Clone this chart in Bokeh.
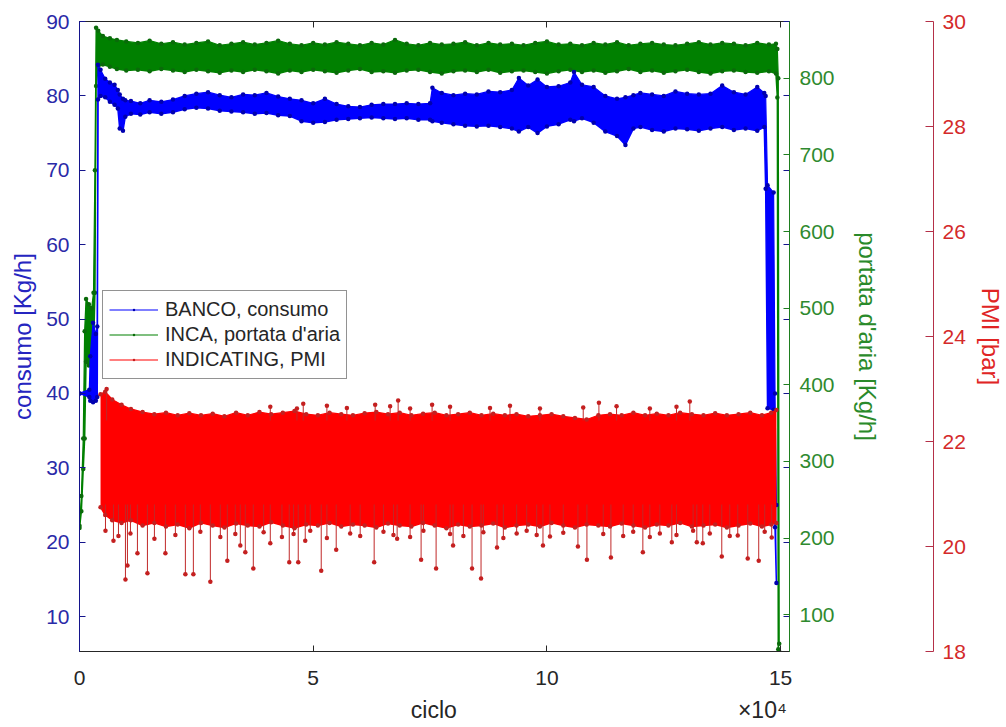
from bokeh.plotting import figure
from bokeh.models import (Range1d, LinearAxis, FixedTicker, Legend, LegendItem,
                          CustomJSTickFormatter)
from bokeh.embed import file_html
from bokeh.resources import INLINE

FONT = "Liberation Sans"

# ---------------- data ----------------
# BANCO, consumo [Kg/h] (left axis): envelope of the dense trace
banco_x = [0, 2100, 2300, 2900, 3500, 3800, 3950, 4500, 5500, 6500,
           7500, 8200, 8600, 9300, 9800, 11000, 13000, 15000, 17500, 20000,
           22500, 25000, 27500, 30000, 32500, 35000, 37500, 40000, 42500, 45000,
           47500, 50000, 52500, 55000, 57500, 60000, 62500, 65000, 67500, 70000,
           72500, 75000, 75500, 77500, 80000, 82500, 85000, 87500, 90000, 92500,
           94000, 96000, 98000, 100000, 102500, 105000, 105800, 107500, 110000, 112500,
           115000, 116800, 118500, 120000, 122500, 125000, 127500, 130000, 132500, 135000,
           137500, 140000, 142500, 145000, 146500, 146800, 147200, 148500, 148800, 149100]
banco_lo = [40, 39.5, 39, 38.8, 39, 39.5, 79.5, 80, 79.8, 79.2,
            78.8, 78.3, 75.6, 75.3, 77.2, 77.6, 77.5, 77.8, 77.6, 77.8,
            78.2, 78.4, 78.3, 78.0, 77.9, 77.8, 77.6, 77.7, 77.4, 77.3,
            76.6, 76.4, 76.5, 76.8, 76.9, 77.0, 77.1, 77.0, 76.9, 77.0,
            76.8, 76.8, 76.6, 76.4, 76.2, 76.0, 75.9, 76.0, 75.8, 75.6,
            75.2, 75.8, 75.0, 75.9, 76.2, 76.8, 76.6, 77.0, 76.4, 75.2,
            74.6, 73.4, 75.6, 75.8, 75.4, 75.2, 75.6, 75.5, 75.3, 75.6,
            75.8, 75.4, 75.6, 75.3, 75.8, 67.5, 38.0, 37.8, 22.0, 14.5]
banco_hi = [40, 40.5, 45, 49.5, 48, 49, 84.2, 83.5, 82.3, 81.8,
            81.5, 80.8, 80.2, 79.6, 79.4, 79.3, 79.0, 79.4, 79.2, 79.5,
            80.0, 80.3, 80.5, 80.1, 79.8, 80.2, 80.1, 80.4, 79.9, 79.6,
            79.4, 79.0, 79.6, 78.9, 78.6, 78.5, 78.8, 78.9, 78.9, 79.0,
            78.9, 79.0, 81.1, 80.4, 80.1, 80.3, 80.2, 80.6, 80.5, 80.8,
            82.4, 81.4, 82.2, 81.2, 81.3, 81.8, 83.2, 81.5, 81.2, 80.0,
            79.6, 79.8, 80.1, 80.4, 80.2, 80.0, 80.6, 80.3, 80.2, 80.3,
            81.4, 80.5, 80.2, 81.2, 80.4, 80.0, 68.0, 67.0, 40.0, 25.0]

# INCA, portata d'aria [Kg/h] (first right axis)
inca_x = [0, 400, 800, 1100, 1400, 2000, 2600, 3000, 3300, 3550,
          4000, 5000, 6500, 8000,
          10000, 12500, 15000, 17500, 20000, 22500, 25000, 27500, 30000, 32500,
          35000, 37500, 40000, 42500, 45000, 47500, 50000, 52500, 55000, 57500,
          60000, 62500, 65000, 67500, 70000, 72500, 75000, 77500, 80000, 82500,
          85000, 87500, 90000, 92500, 95000, 97500, 100000, 102500, 105000, 107500,
          110000, 112500, 115000, 117500, 120000, 122500, 125000, 127500, 130000, 132500,
          135000, 137500, 140000, 142500, 145000, 147500,
          149000, 149300, 149500, 149700]
inca_lo = [213, 235, 290, 330, 430, 425, 430, 445, 520, 790,
           815, 818, 815, 812,
           810, 811, 809, 812, 810, 808, 811, 809, 807, 810,
           808, 811, 809, 806, 810, 808, 811, 809, 807, 810,
           812, 808, 809, 807, 810, 811, 808, 806, 809, 810,
           808, 811, 807, 809, 810, 808, 806, 809, 811, 808,
           810, 807, 809, 812, 808, 810, 807, 809, 811, 808,
           806, 809, 810, 808, 807, 809,
           806, 775, 55, 52]
inca_hi = [216, 255, 330, 470, 512, 505, 500, 520, 680, 866,
           862, 855, 852, 850,
           848, 846, 849, 845, 847, 844, 846, 848, 843, 845,
           847, 844, 846, 849, 845, 843, 846, 844, 847, 845,
           843, 846, 844, 850, 845, 843, 846, 844, 845, 847,
           843, 846, 844, 845, 843, 846, 848, 844, 845, 843,
           846, 844, 847, 843, 845, 846, 844, 843, 845, 847,
           844, 846, 845, 843, 846, 844,
           845, 838, 800, 62]

# INDICATING, PMI [bar] (second right axis)
pmi_x = [4500, 5500, 7000, 9000, 11000, 13500, 16000, 18500, 21000, 23500,
         26000, 28500, 31000, 33500, 36000, 38500, 41000, 43500, 46000, 48500,
         51000, 53500, 56000, 58500, 61000, 63500, 66000, 68500, 71000, 73500,
         76000, 78500, 81000, 83500, 86000, 88500, 91000, 93500, 96000, 98500,
         101000, 103500, 106000, 108500, 111000, 113500, 116000, 118500, 121000, 123500,
         126000, 128500, 131000, 133500, 136000, 138500, 141000, 143500, 146000, 148000,
         149100]
pmi_lo = [20.75, 20.6, 20.5, 20.45, 20.5, 20.4, 20.45, 20.38, 20.42, 20.35,
          20.45, 20.4, 20.36, 20.44, 20.4, 20.38, 20.46, 20.4, 20.35, 20.42,
          20.4, 20.45, 20.38, 20.42, 20.4, 20.36, 20.44, 20.4, 20.38, 20.45,
          20.4, 20.35, 20.42, 20.38, 20.4, 20.44, 20.36, 20.4, 20.42, 20.38,
          20.45, 20.4, 20.36, 20.42, 20.4, 20.38, 20.44, 20.4, 20.36, 20.42,
          20.4, 20.45, 20.38, 20.4, 20.42, 20.36, 20.4, 20.44, 20.38, 20.42,
          20.45]
pmi_hi = [22.9, 22.95, 22.8, 22.7, 22.62, 22.56, 22.52, 22.55, 22.5, 22.54,
          22.5, 22.53, 22.48, 22.55, 22.5, 22.56, 22.52, 22.55, 22.58, 22.52,
          22.5, 22.55, 22.52, 22.5, 22.54, 22.56, 22.52, 22.55, 22.5, 22.53,
          22.55, 22.5, 22.52, 22.55, 22.5, 22.53, 22.5, 22.52, 22.48, 22.5,
          22.52, 22.48, 22.45, 22.42, 22.5, 22.52, 22.5, 22.55, 22.5, 22.53,
          22.5, 22.55, 22.52, 22.5, 22.54, 22.5, 22.52, 22.55, 22.5, 22.55,
          22.6]
# isolated PMI outliers: long downward spikes
pmi_down_x = [7266, 9830, 10258, 12395, 14532, 18378, 22652, 24362, 27995, 31628,
              34406, 35474, 37184, 40817, 44877, 46800, 48296, 51715, 54921, 63042,
              67957, 73085, 76291, 79924, 83984, 85907, 89327, 99157, 106636, 108560,
              113688, 120527, 126724, 132067, 133349, 137409, 140828, 142965, 145316, 148094]
pmi_down_v = [20.11, 19.37, 19.64, 19.87, 19.49, 19.87, 19.47, 19.47, 19.33, 19.73,
              20.02, 19.89, 19.58, 20.06, 19.70, 19.70, 20.11, 19.54, 19.94, 19.70,
              20.15, 19.75, 19.58, 20.02, 19.58, 19.39, 19.98, 20.02, 20.00, 19.75,
              19.79, 19.89, 20.08, 20.08, 20.06, 19.81, 20.21, 19.77, 19.73, 20.17]
# short downward spikes along the lower edge
pmi_short_x = [5556, 8334, 10898, 16027, 20515, 25857, 30131, 33337, 39390, 43310,
               45800, 49370, 52930, 57910, 60050, 65030, 67170, 70730, 73580, 79280,
               82130, 86400, 90680, 93530, 95670, 97810, 100650, 103500, 112050, 116320,
               118460, 122020, 124160, 127720, 131280, 134845, 139119, 146598]
pmi_short_v = [20.3, 20.2, 20.25, 20.15, 20.22, 20.28, 20.18, 20.24, 20.27, 20.18,
               20.24, 20.3, 20.16, 20.25, 20.2, 20.28, 20.22, 20.18, 20.3, 20.24,
               20.2, 20.27, 20.16, 20.25, 20.3, 20.22, 20.19, 20.26, 20.24, 20.2,
               20.28, 20.18, 20.25, 20.22, 20.3, 20.25, 20.2, 20.28]
# upward outliers along the upper edge
pmi_up_x = [5800, 40817, 46520, 47869, 52930, 57200, 63255, 66460, 68170, 70730,
            75436, 79280, 87830, 92100, 98510, 107770, 111124, 114900, 122020, 127720,
            130571]
pmi_up_v = [23.0, 22.66, 22.63, 22.72, 22.68, 22.64, 22.7, 22.67, 22.78, 22.63,
            22.7, 22.66, 22.64, 22.68, 22.63, 22.65, 22.74, 22.67, 22.63, 22.66,
            22.76]

x_ticks = [0, 50000, 100000, 150000]
left_ticks = [10, 20, 30, 40, 50, 60, 70, 80, 90]
air_ticks = [100, 200, 300, 400, 500, 600, 700, 800]
pmi_ticks = [18, 20, 22, 24, 26, 28, 30]

labels = ["BANCO, consumo", "INCA, portata d'aria", "INDICATING, PMI"]
x_title = "ciclo"
x_multiplier = "×10⁴"

# ---------------- colours ----------------
BLUE = "#0000ff"
GREEN = "#008000"
RED = "#ff0000"
L_AX = "#14148c"
L_TXT = "#2a2aa8"
G_AX = "#1f7f1f"
G_TXT = "#2f8a2f"
R_AX = "#b43048"
R_TXT = "#d42a2a"
K_TXT = "#262626"

# layout anchors (data x of the under-axis texts)
X_TITLE_AT = 75800
X_MULT_AT = 146100


def trim(*cols):
    n = min(len(c) for c in cols)
    return [list(c[:n]) for c in cols]


bx, blo, bhi = trim(banco_x, banco_lo, banco_hi)
gx, glo, ghi = trim(inca_x, inca_lo, inca_hi)
rx, rlo, rhi = trim(pmi_x, pmi_lo, pmi_hi)
dx, dv = trim(pmi_down_x, pmi_down_v)
sx, sv = trim(pmi_short_x, pmi_short_v)
ux, uv = trim(pmi_up_x, pmi_up_v)

p = figure(width=1006, height=727, output_backend="svg", toolbar_location=None,
           x_range=Range1d(0, 151900), y_range=Range1d(5.3, 90),
           min_border_left=79, min_border_top=21, min_border_right=0,
           min_border_bottom=76)
p.extra_y_ranges = {"air": Range1d(52, 874), "pmi": Range1d(18, 30)}
p.xgrid.visible = False
p.ygrid.visible = False
p.outline_line_color = "#262626"
p.outline_line_width = 1
p.background_fill_color = "white"
p.border_fill_color = "white"

EMPTY = CustomJSTickFormatter(code="return '';")


def style_axis(ax, color_line, color_txt, tick_in, standoff, label=None,
               label_standoff=0, lab_color=None, size="21px"):
    ax.axis_line_color = color_line
    ax.major_tick_line_color = color_line
    ax.minor_tick_line_color = None
    ax.major_tick_in = tick_in
    ax.major_tick_out = 0
    ax.major_label_standoff = standoff
    ax.major_label_text_font = FONT
    ax.major_label_text_font_size = size
    ax.major_label_text_color = color_txt
    if label is not None:
        ax.axis_label = label
        ax.axis_label_text_font = FONT
        ax.axis_label_text_font_size = "24px"
        ax.axis_label_text_font_style = "normal"
        ax.axis_label_text_color = lab_color or color_txt
        ax.axis_label_standoff = label_standoff


# bottom x axis (tick labels only)
xa = p.xaxis[0]
xa.ticker = FixedTicker(ticks=x_ticks)
xa.formatter = CustomJSTickFormatter(code="return (tick/10000).toFixed(0);")
style_axis(xa, "#262626", K_TXT, 6, 19)

# second row under the axis: "ciclo" and the x10^4 multiplier
xb = LinearAxis(ticker=FixedTicker(ticks=[X_TITLE_AT, X_MULT_AT]))
xb.formatter = CustomJSTickFormatter(
    args=dict(t=x_title, m=x_multiplier, cut=(X_TITLE_AT + X_MULT_AT) / 2),
    code="return tick < cut ? t : m;")
style_axis(xb, None, K_TXT, 0, 9, size="23px")
xb.major_tick_line_color = None
p.add_layout(xb, "below")

# left axis
ya = p.yaxis[0]
ya.ticker = FixedTicker(ticks=left_ticks)
style_axis(ya, L_AX, L_TXT, 6, 10, "consumo [Kg/h]", 7, "#2525c0")

# mirrored ticks (top, right of the box), no labels
top = LinearAxis(ticker=FixedTicker(ticks=x_ticks), formatter=EMPTY)
style_axis(top, "#262626", None, 6, 0)
top.axis_line_color = None
p.add_layout(top, "above")

mir = LinearAxis(ticker=FixedTicker(ticks=left_ticks), formatter=EMPTY)
style_axis(mir, L_AX, None, 6, 0)
mir.axis_line_color = None
p.add_layout(mir, "right")

# green axis
ga = LinearAxis(y_range_name="air", ticker=FixedTicker(ticks=air_ticks))
style_axis(ga, G_AX, G_TXT, 6, 10, "portata d'aria [Kg/h]", 16, "#2a8a2a")
p.add_layout(ga, "right")

# spacer between green and red axes
sp = LinearAxis(y_range_name="air", ticker=FixedTicker(ticks=[]), formatter=EMPTY)
sp.axis_line_color = None
sp.major_tick_line_color = None
sp.minor_tick_line_color = None
sp.major_label_text_color = None
sp.major_label_standoff = 0
sp.axis_label = " "
sp.axis_label_text_font_size = "10px"
sp.axis_label_standoff = 36
p.add_layout(sp, "right")

# red axis
ra = LinearAxis(y_range_name="pmi", ticker=FixedTicker(ticks=pmi_ticks))
style_axis(ra, R_AX, R_TXT, 8, 9, "PMI [bar]", 8, "#e02424")
p.add_layout(ra, "right")

# ---------------- series ----------------
# INCA (green)
p.varea(x=gx, y1=glo, y2=ghi, color=GREEN, y_range_name="air")
p.line(gx, glo, color=GREEN, line_width=1.5, y_range_name="air")
g_line = p.line(gx, ghi, color=GREEN, line_width=1.2, y_range_name="air")
g_dot = p.scatter(gx + gx, glo + ghi, marker="dot", size=18, color="#0a6a0a",
                  y_range_name="air")

# BANCO (blue)
p.varea(x=bx, y1=blo, y2=bhi, color=BLUE)
p.line(bx, blo, color=BLUE, line_width=1.5)
b_line = p.line(bx, bhi, color=BLUE, line_width=1.2)
b_dot = p.scatter(bx + bx, blo + bhi, marker="dot", size=18, color="#0000b0")

# INDICATING (red)
p.varea(x=rx, y1=rlo, y2=rhi, color=RED, y_range_name="pmi")
p.line(rx, rlo, color=RED, line_width=1.5, y_range_name="pmi")
r_line = p.line(rx, rhi, color=RED, line_width=1.2, y_range_name="pmi")
p.segment(x0=dx + sx, y0=20.8, x1=dx + sx, y1=dv + sv, color="#c02828",
          line_width=1, y_range_name="pmi")
p.segment(x0=ux, y0=22.4, x1=ux, y1=uv, color="#c02828", line_width=1,
          y_range_name="pmi")
r_dot = p.scatter(dx + sx + ux + rx + rx, dv + sv + uv + rlo + rhi, marker="dot",
                  size=18, color="#c42020", y_range_name="pmi")

legend = Legend(items=[
    LegendItem(label=labels[0], renderers=[b_line, b_dot]),
    LegendItem(label=labels[1], renderers=[g_line, g_dot]),
    LegendItem(label=labels[2], renderers=[r_line, r_dot]),
], location=(23, 272))
legend.border_line_color = "#262626"
legend.border_line_width = 1
legend.background_fill_color = "white"
legend.background_fill_alpha = 1
legend.label_text_font = FONT
legend.label_text_font_size = "20px"
legend.label_text_color = K_TXT
legend.glyph_width = 49
legend.glyph_height = 25
legend.label_height = 25
legend.spacing = 0
legend.padding = 6
legend.margin = 0
legend.label_standoff = 7
p.add_layout(legend)

open("out.html", "w").write(file_html(p, INLINE))
